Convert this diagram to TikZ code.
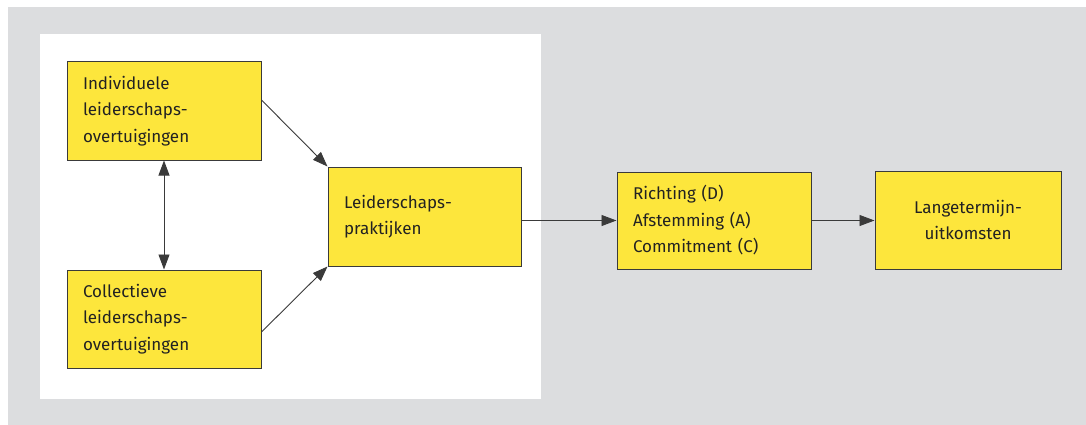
\documentclass[tikz,border=0pt]{standalone}
\usepackage{fontspec}
\setmainfont{Fira Sans}
\usetikzlibrary{arrows.meta,shadows}
\definecolor{bggray}{HTML}{DCDDDF}
\definecolor{boxyellow}{HTML}{FDE63C}
\definecolor{linegray}{HTML}{3A3A3A}
\definecolor{txt}{HTML}{222222}
\tikzset{
  ybox/.style={draw=linegray, line width=1pt, fill=boxyellow, rectangle,
    minimum width=194pt, minimum height=98pt, inner xsep=16pt, inner ysep=0pt,
    text width=162pt, align=left, text=txt,
    font=\fontsize{17pt}{26.5pt}\selectfont,
    drop shadow={shadow xshift=1.2pt, shadow yshift=-1.2pt, fill=black!40, opacity=1}},
  conn/.style={draw=linegray, line width=0.9pt, -{Triangle[length=15pt,width=11pt]}},
  dconn/.style={draw=linegray, line width=0.9pt, {Triangle[length=15pt,width=11pt]}-{Triangle[length=15pt,width=11pt]}}
}
\begin{document}
\begin{tikzpicture}[x=1pt,y=-1pt]
\useasboundingbox (0,0) rectangle (1086,425);
\fill[white] (0,0) rectangle (1086,425);
\fill[bggray] (8,7) rectangle (1086,425);
\fill[white] (40,34) rectangle (541,399);
\node[ybox] (b1) at (164,111) {Individuele\\leiderschaps-\\overtuigingen};
\node[ybox] (b2) at (164,319) {Collectieve\\leiderschaps-\\overtuigingen};
\node[ybox, minimum width=193pt, minimum height=99pt, text width=161pt] (b3) at (424.5,216.5) {Leiderschaps-\\praktijken};
\node[ybox, minimum height=97pt] (b4) at (714,220.5) {Richting (D)\\Afstemming (A)\\Commitment (C)};
\node[ybox, minimum width=186pt, text width=154pt, align=center] (b5) at (968,220) {Langetermijn-\\uitkomsten};
\draw[conn] ([yshift=11pt]b1.east) -- (b3.north west);
\draw[conn] ([yshift=-13pt]b2.east) -- (b3.south west);
\draw[dconn] (b1.south) -- (b2.north);
\draw[conn] (b3.east |- b4.west) -- (b4.west);
\draw[conn] (b4.east) -- (b5.west |- b4.east);
\end{tikzpicture}
\end{document}
